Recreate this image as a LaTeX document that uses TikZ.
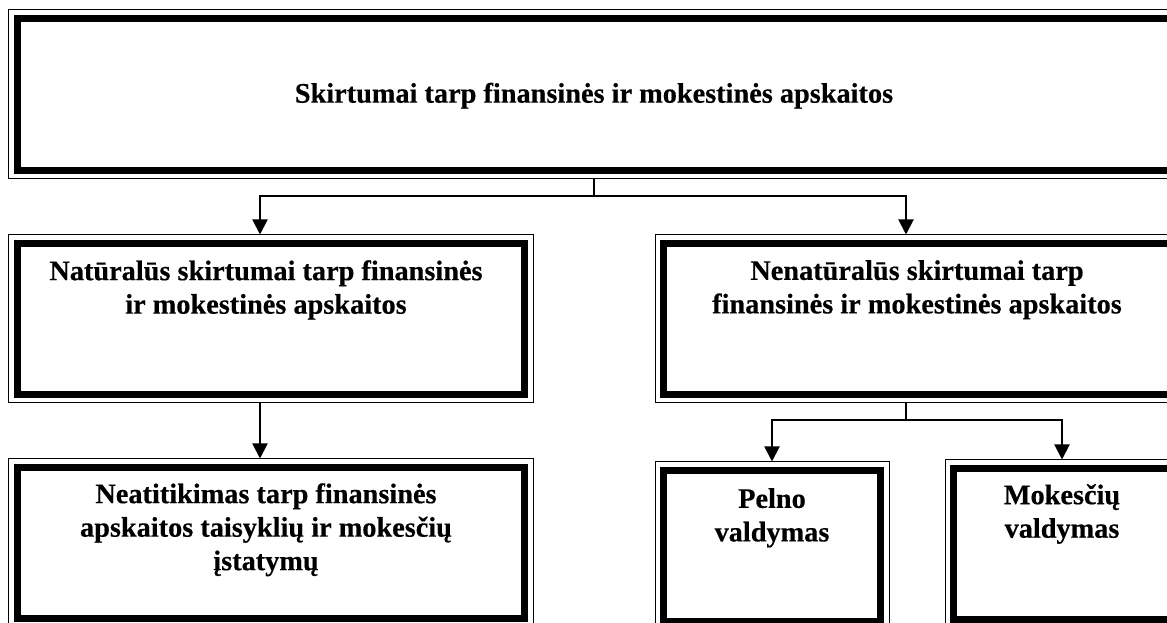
\documentclass[tikz,border=0pt]{standalone}
\usepackage{fontspec}
\setmainfont{Liberation Serif}
\newfontfamily\boxfont{Liberation Serif Bold}[FakeBold=0.4]
\usetikzlibrary{arrows.meta}
\begin{document}
\begin{tikzpicture}[x=1bp,y=1bp,
  % box with a thin outer rule and a thick inner rule
  frame/.style={rectangle, draw, line width=1bp, inner sep=0pt,
    path picture={\draw[line width=7bp]
      ([shift={(8.2bp,-8.2bp)}]path picture bounding box.north west) rectangle
      ([shift={(-8.2bp,8.2bp)}]path picture bounding box.south east);}},
  wide/.style={frame, minimum width=524bp, minimum height=168bp},
  narrow/.style={frame, minimum width=234bp, minimum height=168bp},
  txt/.style={anchor=north, inner sep=0pt, align=center,
    font=\boxfont\fontsize{28.3bp}{33.5bp}\selectfont,
    execute at begin node=\strut},
  conn/.style={line width=2bp},
  arr/.style={conn, -{Triangle[length=15bp,width=15bp]}}
]
\useasboundingbox (0,0) rectangle (1167,623);
\clip (0,0) rectangle (1167,623);

% boxes
\node[frame, minimum width=1170bp, minimum height=169bp] (top) at (594,528.5) {};
\node[wide] (nat) at (271,304) {};
\node[wide] (nenat) at (917,304) {};
\node[wide] (neat) at (271,80) {};
\node[narrow] (pelno) at (772,77) {};
\node[narrow] (mok) at (1062,79) {};

% labels (strut height 23.45bp sits above the first baseline)
\node[txt] (ttop) at ([yshift=-69.55bp]top.north)
  {Skirtumai tarp finansinės ir mokestinės apskaitos};
\node[txt] (tnat) at ([xshift=-5bp,yshift=-25.55bp]nat.north)
  {Natūralūs skirtumai tarp finansinės\\ir mokestinės apskaitos};
\node[txt] (tnenat) at ([yshift=-25.55bp]nenat.north)
  {Nenatūralūs skirtumai tarp\\finansinės ir mokestinės apskaitos};
\node[txt] (tneat) at ([xshift=-5bp,yshift=-24.55bp]neat.north)
  {Neatitikimas tarp finansinės\\apskaitos taisyklių ir mokesčių\\įstatymų};
\node[txt] (tpelno) at ([yshift=-26.55bp]pelno.north)
  {Pelno\\valdymas};
\node[txt] (tmok) at ([yshift=-24.55bp]mok.north)
  {Mokesčių\\valdymas};

% connectors
\coordinate (j1) at ([yshift=-17bp]top.south);
\draw[conn] (top.south) -- (j1);
\draw[arr] (j1) -| ([xshift=-11bp]nat.north);
\draw[arr] (j1) -| ([xshift=-11bp]nenat.north);
\draw[arr] ([xshift=-11bp]nat.south) -- ([xshift=-11bp]neat.north);
\coordinate (j2) at ([xshift=-11bp,yshift=-17bp]nenat.south);
\draw[conn] ([xshift=-11bp]nenat.south) -- (j2);
\draw[arr] (j2) -| (pelno.north);
\draw[arr] (j2) -| (mok.north);
\end{tikzpicture}
\end{document}
